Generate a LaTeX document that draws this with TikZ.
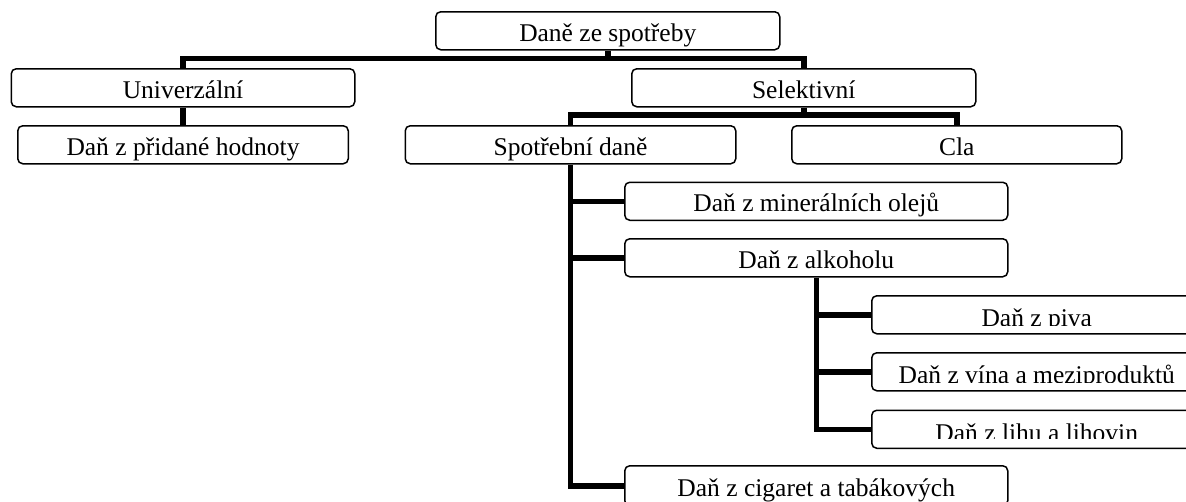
\documentclass[tikz,border=0pt]{standalone}
\usepackage{fontspec}
\setmainfont{Liberation Serif}
\usetikzlibrary{calc}
\begin{document}
\begin{tikzpicture}[x=1pt,y=-1pt,
  txt/.style={font=\fontsize{25.5}{30}\selectfont},
  box/.style={draw, line width=1.5pt, rounded corners=5pt, fill=white, inner sep=0pt,
    anchor=north west, minimum height=38pt, text height=29.5pt, text depth=8.5pt, txt},
  cutbox/.style={box, text height=31.5pt, text depth=6.5pt},
  conn/.style={line width=5.5pt}]
\useasboundingbox (0,0) rectangle (1186,501);
\clip (0,0) rectangle (1186,501);
% boxes
\node[box, minimum width=344pt] (top) at (435,11) {Daně ze spotřeby};
\node[box, minimum width=343.5pt] (univ) at (10.5,68) {Univerzální};
\node[box, minimum width=344pt] (sel) at (631,68) {Selektivní};
\node[box, minimum width=330.5pt] (dph) at (17,125) {Daň z přidané hodnoty};
\node[box, minimum width=330.5pt] (spot) at (404.5,125) {Spotřební daně};
\node[box, minimum width=330pt] (cla) at (791,125) {Cla};
\node[box, minimum width=383pt] (min) at (624,181.5) {Daň z minerálních olejů};
\node[box, minimum width=383pt] (alk) at (624,238) {Daň z alkoholu};
\node[box, minimum width=383pt, minimum height=40pt] (cig) at (624,465) {Daň z cigaret a tabákových};
\node[cutbox, minimum width=330pt] (piva) at (871,295) {};
\node[cutbox, minimum width=330pt] (vina) at (871,352) {};
\node[cutbox, minimum width=330pt] (lihu) at (871,409.5) {};
% clipped texts
\begin{scope}
\clip (piva.north west) rectangle ($(piva.north east)+(0,30.5)$);
\node[txt, anchor=base, inner sep=0pt] (pivaT) at ($(piva.north)+(0,31.5)$) {Daň z piva};
\end{scope}
\begin{scope}
\clip (vina.north west) rectangle ($(vina.north east)+(0,30)$);
\node[txt, anchor=base, inner sep=0pt] (vinaT) at ($(vina.north)+(0,31.5)$) {Daň z vína a meziproduktů};
\end{scope}
\begin{scope}
\clip (lihu.north west) rectangle ($(lihu.north east)+(0,28.5)$);
\node[txt, anchor=base, inner sep=0pt] (lihuT) at ($(lihu.north)+(0,32)$) {Daň z lihu a lihovin};
\end{scope}
% bus coordinates
\coordinate (bus1) at (0,58.5);
\coordinate (bus2) at (0,115);
% connectors
\draw[conn] (top.south) -- (top.south |- bus1);
\draw[conn] (univ.north) -- (univ.north |- bus1) -- (sel.north |- bus1) -- (sel.north);
\draw[conn] (univ.south) -- (dph.north);
\draw[conn] (sel.south) -- (sel.south |- bus2);
\draw[conn] (spot.north) -- (spot.north |- bus2) -- (cla.north |- bus2) -- (cla.north);
\draw[conn] (spot.south) -- (spot.south |- cig.west) -- (cig.west);
\draw[conn] (spot.south |- min.west) -- (min.west);
\draw[conn] (spot.south |- alk.west) -- (alk.west);
\draw[conn] (alk.south) -- (alk.south |- lihu.west) -- (lihu.west);
\draw[conn] (alk.south |- piva.west) -- (piva.west);
\draw[conn] (alk.south |- vina.west) -- (vina.west);
\end{tikzpicture}
\end{document}
